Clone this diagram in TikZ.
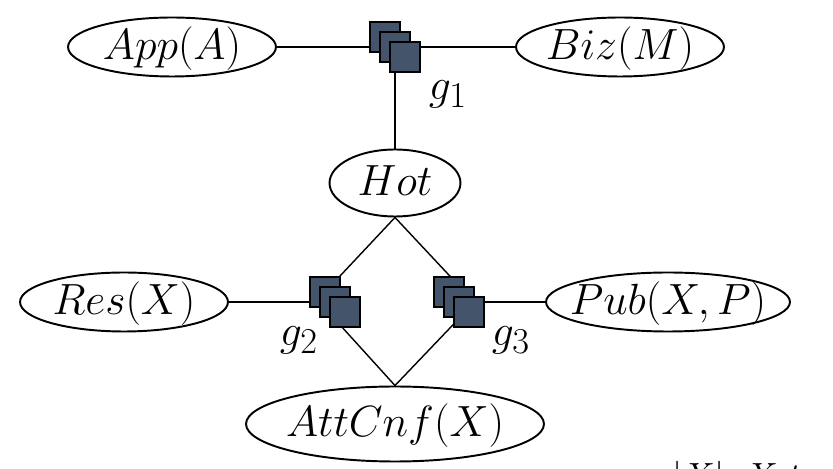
\documentclass[tikz,border=0pt]{standalone}
\usepackage{amsmath}
\usepackage{tikz}
\usetikzlibrary{shapes.geometric}
\pgfdeclarelayer{bg}
\pgfsetlayers{bg,main}
\definecolor{facblue}{HTML}{44546A}
\newcommand{\vlab}[1]{\makebox[0pt]{$#1$}}
\tikzset{
  var/.style={ellipse, draw, line width=1.1pt, inner sep=0pt,
    minimum width=4.16cm, minimum height=1.18cm,
    text height=14pt, text depth=0pt,
    font=\fontsize{28}{32}\selectfont},
  fac/.style={rectangle, draw, fill=facblue, line width=0.9pt,
    minimum size=0.6cm, inner sep=0pt},
  edge/.style={line width=0.8pt},
  flab/.style={font=\fontsize{28}{32}\selectfont}
}

\begin{document}
\begin{tikzpicture}[x=0.02cm, y=-0.02cm]
    \useasboundingbox (0,0) rectangle (833,469);
    % variables
    \node[var] (app) at (172,47) {\vlab{App(A)}};
    \node[var] (biz) at (620,47) {\vlab{Biz(M)}};
    \node[var, minimum width=2.62cm, minimum height=1.34cm] (hot) at (395,183) {\vlab{Hot}};
    \node[var] (res) at (124,302) {\vlab{Res(X)}};
    \node[var, minimum width=4.88cm] (pub) at (668,302) {\vlab{Pub(X,P)}};
    \node[var, minimum width=5.96cm, minimum height=1.5cm] (att) at (395,424) {\vlab{AttCnf(X)}};
    % factors
    \foreach \f/\x/\y in {g1/385/37, g2/325/292, g3/449/292} {
      \node[fac] (\f a) at (\x,\y) {};
      \node[fac] (\f b) at (\x+10,\y+10) {};
      \node[fac] (\f c) at (\x+20,\y+20) {};
    }
    \node[flab] (l1) at (448,94) {$g_1$};
    \node[flab] (l2) at (299,340) {$g_2$};
    \node[flab] (l3) at (511,340) {$g_3$};
    % edges
    \begin{pgfonlayer}{bg}
      \draw[edge] (app.east) -- (g1b.center) -- (biz.west);
      \draw[edge] (g1b.center) -- (hot.north);
      \draw[edge] (g2a.center) -- (hot.south) -- (g3a.east);
      \draw[edge] (res.east) -- (g2b.center);
      \draw[edge] (g3b.center) -- (pub.west);
      \draw[edge] (g2b.west) -- (att.north) -- (g3b.east);
    \end{pgfonlayer}
    \node[anchor=north west, inner sep=0pt, font=\fontsize{20}{24}\selectfont] (cut) at (672,461) {$|X|\;\;X\;t$};
\end{tikzpicture}
\end{document}
